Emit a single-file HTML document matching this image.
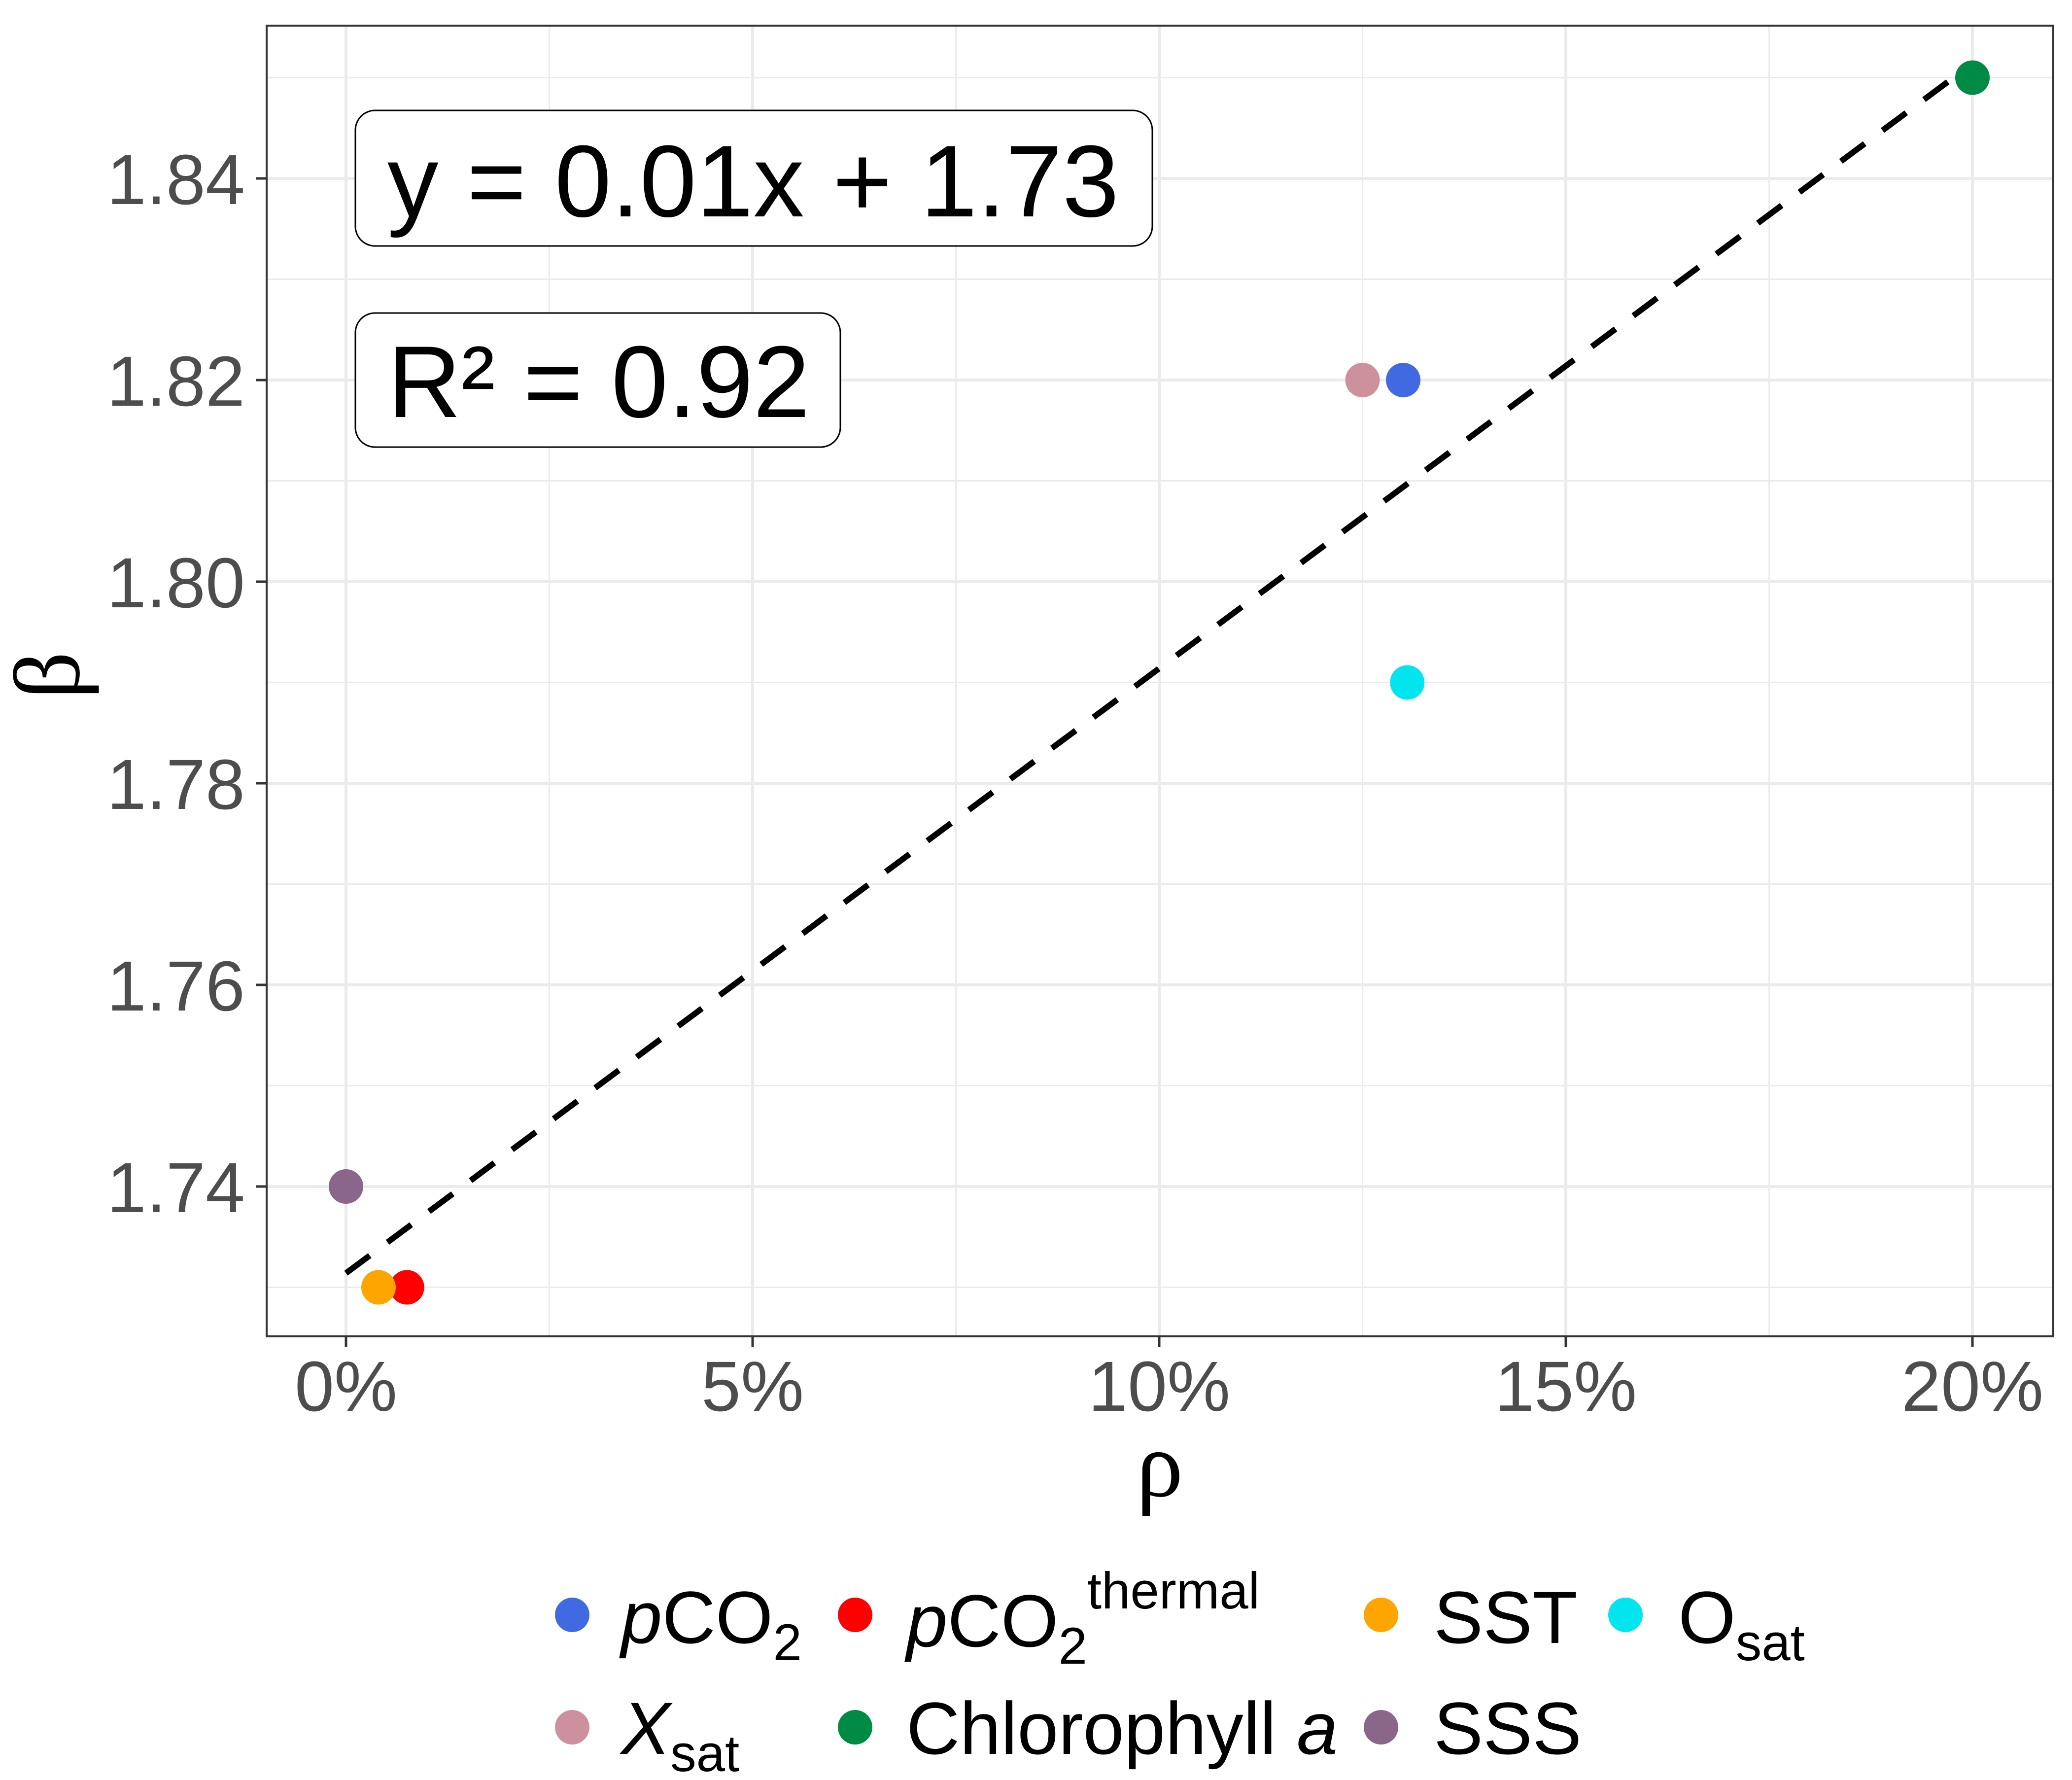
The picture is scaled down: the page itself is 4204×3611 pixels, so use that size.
<!DOCTYPE html>
<html><head><meta charset="utf-8"><style>
html,body{margin:0;padding:0;background:#fff;}
svg{display:block;font-family:"Liberation Sans",Arial,sans-serif;}
</style></head><body>
<svg id="chart" width="4204" height="3611" viewBox="0 0 4204 3611" xmlns="http://www.w3.org/2000/svg">
<rect width="4204" height="3611" fill="#fff"/>
<g id="grid"></g>
<g id="fitline"></g>
<g id="points"></g>
<rect x="541" y="52" width="3625" height="2659" fill="none" stroke="#333" stroke-width="4"/>
<g id="axes"></g>
<g>
<rect x="721" y="224" width="1617" height="275" rx="40" fill="#fff" stroke="#000" stroke-width="3"/>
<text x="786" y="439" font-size="207" fill="#000">y = 0.01x + 1.73</text>
</g>
<g>
<rect x="721" y="635" width="984" height="272" rx="40" fill="#fff" stroke="#000" stroke-width="3"/>
<text x="786" y="846" font-size="207" fill="#000">R² = 0.92</text>
</g>
<text x="2353" y="3035" font-size="190" text-anchor="middle" font-family="Liberation Serif,serif">ρ</text>
<text transform="translate(160,1370) rotate(-90)" font-size="190" text-anchor="middle" font-family="Liberation Serif,serif">β</text>
<g id="legend" font-size="150">
<g><circle cx="1161" cy="3276" r="35" fill="#4169E1"/><text x="1260" y="3333"><tspan font-style="italic">p</tspan>CO<tspan font-size="105" dy="35">2</tspan></text></g>
<g><circle cx="1735" cy="3276" r="35" fill="#FF0000"/><text x="1839" y="3340"><tspan font-style="italic">p</tspan>CO<tspan font-size="105" dy="35">2</tspan><tspan font-size="105" dy="-112">thermal</tspan></text></g>
<g><circle cx="2802" cy="3276" r="35" fill="#FFA500"/><text x="2909" y="3333">SST</text></g>
<g><circle cx="3298" cy="3276" r="35" fill="#00E5EE"/><text x="3405" y="3333">O<tspan font-size="105" dy="35">sat</tspan></text></g>
<g><circle cx="1161" cy="3504" r="35" fill="#CD919E"/><text x="1260" y="3558"><tspan font-style="italic">X</tspan><tspan font-size="105" dy="35">sat</tspan></text></g>
<g><circle cx="1735" cy="3504" r="35" fill="#008B45"/><text x="1839" y="3558">Chlorophyll <tspan font-style="italic">a</tspan></text></g>
<g><circle cx="2802" cy="3504" r="35" fill="#8B668B"/><text x="2909" y="3558">SSS</text></g>
</g>
</svg>
<script>
const NS="http://www.w3.org/2000/svg";
const seriesNames=["pCO2","pCO2thermal","SST","Osat","Xsat","Chlorophyll a","SSS"];
const rhoValues=[13.0,0.75,0.4,13.05,12.5,20.0,0.0];
const betaValues=[1.82,1.73,1.73,1.79,1.82,1.85,1.74];
const seriesColors=["#4169E1","#FF0000","#FFA500","#00E5EE","#CD919E","#008B45","#8B668B"];
const xTicks=[0,5,10,15,20];
const xTickLabels=["0%","5%","10%","15%","20%"];
const yTicks=[1.74,1.76,1.78,1.80,1.82,1.84];
const yTickLabels=["1.74","1.76","1.78","1.80","1.82","1.84"];
const fitSlope=0.006;
const fitIntercept=1.7314;
const fitRange=[0,20];
function X(p){return 702+p*165;}
function Y(v){return 362+(1.84-v)/0.02*409;}
const L=541,R=4166,T=52,B=2711;
function mk(tag,attrs,parent){const e=document.createElementNS(NS,tag);for(const k in attrs)e.setAttribute(k,attrs[k]);parent.appendChild(e);return e;}
const grid=document.getElementById('grid');
for(let i=0;i<xTicks.length-1;i++){const m=(xTicks[i]+xTicks[i+1])/2;const l=mk('line',{x1:X(m),x2:X(m),y1:T,y2:B,stroke:'#ebebeb','stroke-width':3},grid);

}
for(let i=0;i<yTicks.length-1;i++){const m=(yTicks[i]+yTicks[i+1])/2;const l=mk('line',{x1:L,x2:R,y1:Y(m),y2:Y(m),stroke:'#ebebeb','stroke-width':3},grid);

}
{const m=yTicks[0]-0.01;const l=mk('line',{x1:L,x2:R,y1:Y(m),y2:Y(m),stroke:'#ebebeb','stroke-width':3},grid);

}
{const m=yTicks[yTicks.length-1]+0.01;const l=mk('line',{x1:L,x2:R,y1:Y(m),y2:Y(m),stroke:'#ebebeb','stroke-width':3},grid);

}
const axes=document.getElementById('axes');
xTicks.forEach((t,i)=>{const l=mk('line',{x1:X(t),x2:X(t),y1:T,y2:B,stroke:'#ebebeb','stroke-width':6},grid);


const tk=mk('line',{x1:X(t),x2:X(t),y1:B,y2:B+22,stroke:'#333','stroke-width':5},axes);


const tx=mk('text',{x:X(t),y:2862,'font-size':144,fill:'#4d4d4d','text-anchor':'middle'},axes);tx.textContent=xTickLabels[i];

});
yTicks.forEach((t,i)=>{const l=mk('line',{x1:L,x2:R,y1:Y(t),y2:Y(t),stroke:'#ebebeb','stroke-width':6},grid);


const tk=mk('line',{x1:L-22,x2:L,y1:Y(t),y2:Y(t),stroke:'#333','stroke-width':5},axes);


const tx=mk('text',{x:497,y:Y(t)+52,'font-size':144,fill:'#4d4d4d','text-anchor':'end'},axes);tx.textContent=yTickLabels[i];

});
const fl=document.getElementById('fitline');
const line=mk('line',{x1:X(fitRange[0]),y1:Y(fitIntercept+fitSlope*fitRange[0]),x2:X(fitRange[1]),y2:Y(fitIntercept+fitSlope*fitRange[1]),stroke:'#000','stroke-width':12,'stroke-dasharray':'60 45'},fl);


const pts=document.getElementById('points');
rhoValues.forEach((r,i)=>{const c=mk('circle',{cx:X(r),cy:Y(betaValues[i]),r:35,fill:seriesColors[i]},pts);

});
</script>
</body></html>
